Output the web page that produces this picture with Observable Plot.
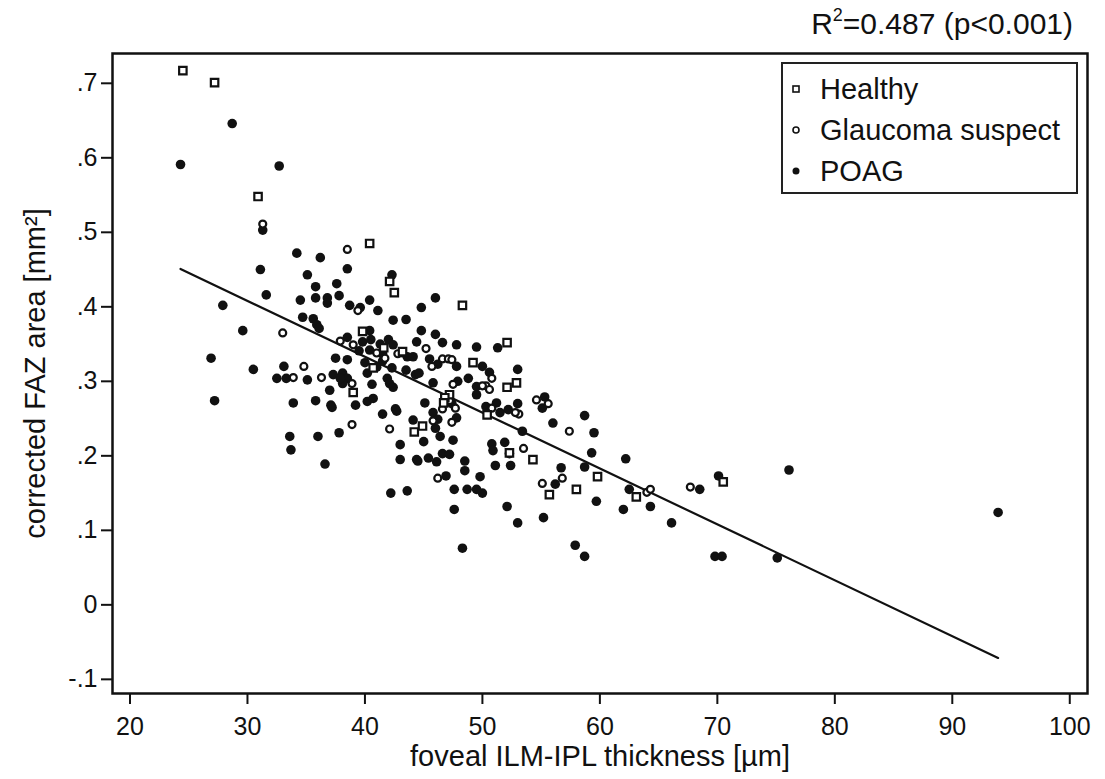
<!DOCTYPE html>
<html>
<head>
<meta charset="utf-8">
<script src="https://cdn.jsdelivr.net/npm/d3@7"></script>
<script src="https://cdn.jsdelivr.net/npm/@observablehq/plot@0.6"></script>
<style>
  body { margin: 0; background: #fff; font-family: "Liberation Sans", Arial, sans-serif; }
  #wrap { position: relative; width: 1105px; height: 779px; background: #fff; }
  #chart { position: absolute; left: 0; top: 0; }
  #title { position: absolute; right: 32px; top: 7px; font-size: 30px; color: #111; white-space: nowrap; }
  #title sup { font-size: 18px; position: relative; top: -2px; }
  #legend { position: absolute; left: 781px; top: 62px; width: 293px; height: 128px; border: 2px solid #222; background: #fff; }
  svg g[aria-label="x-axis label"] text, svg g[aria-label="y-axis label"] text { font-size: 29px; }
</style>
</head>
<body>
<div id="wrap">
  <div id="chart"></div>
  <div id="title">R<sup>2</sup>=0.487 (p&lt;0.001)</div>
  <div id="legend"></div>
</div>
<script>
// ---- data (x = foveal ILM-IPL thickness [µm], y = corrected FAZ area [mm²]) ----
const seriesNames = ["Healthy", "Glaucoma suspect", "POAG"];
const xTicks = [20, 30, 40, 50, 60, 70, 80, 90, 100];
const yTicks = [-0.1, 0, 0.1, 0.2, 0.3, 0.4, 0.5, 0.6, 0.7];
const xLabel = "foveal ILM-IPL thickness [\u00B5m]";
const yLabel = "corrected FAZ area [mm\u00B2]";
const fitIntercept = 0.633;
const fitSlope = -0.0075;

const healthy = [
  [24.5,.717],[27.2,.701],[30.9,.548],[40.4,.485],[42.1,.434],[42.5,.419],[39.8,.367],[41.6,.345],
  [40.7,.318],[39.0,.285],[44.2,.232],[48.3,.402],[52.1,.352],[43.2,.340],[49.2,.325],[47.2,.282],
  [46.8,.278],[52.1,.292],[52.9,.298],[46.7,.271],[50.4,.255],[44.9,.240],[52.3,.204],[54.3,.195],
  [55.7,.148],[58.0,.155],[59.8,.172],[63.1,.145],[70.5,.165]
];

const suspect = [
  [31.3,.511],[38.5,.477],[39.4,.395],[33.0,.365],[34.8,.320],[33.9,.305],[36.3,.305],[38.9,.297],
  [38.9,.242],[42.1,.236],[45.2,.344],[45.7,.320],[46.6,.330],[47.1,.330],[47.4,.329],[50.8,.304],
  [50.3,.294],[50.6,.289],[47.5,.296],[46.6,.263],[47.7,.264],[50.8,.264],[53.1,.256],[52.8,.258],
  [54.6,.275],[55.6,.270],[57.4,.233],[53.5,.210],[56.8,.170],[55.1,.163],[64.0,.151],[64.3,.155],
  [67.7,.158],[46.2,.170],[47.4,.245],[45.8,.247],[37.9,.354],[39.0,.349],[41.0,.338],[41.7,.331],
  [42.8,.337],[43.2,.338],[50.0,.294],[47.2,.274]
];

const poag = [
  [28.7,.646],[24.3,.591],[32.7,.589],[31.3,.503],[34.2,.472],[36.2,.466],[38.5,.451],[31.1,.450],
  [35.1,.443],[42.3,.443],[37.6,.431],[35.8,.427],[31.6,.416],[34.5,.409],[35.8,.412],[36.8,.412],
  [37.8,.415],[40.4,.409],[36.8,.405],[38.7,.402],[39.6,.399],[41.1,.395],[27.9,.402],[34.7,.386],
  [35.6,.384],[35.9,.376],[36.1,.371],[42.4,.382],[43.5,.383],[29.6,.368],[40.4,.368],[26.9,.331],
  [37.5,.331],[38.5,.329],[30.5,.316],[33.1,.320],[32.5,.304],[33.3,.304],[35.1,.302],[37.3,.309],
  [38.1,.311],[38.5,.304],[38.1,.297],[37.0,.288],[40.2,.311],[40.6,.296],[41.9,.304],[42.1,.297],
  [42.4,.292],[43.5,.315],[44.3,.309],[27.2,.274],[33.9,.271],[35.8,.274],[37.1,.268],[39.2,.268],
  [40.2,.273],[40.7,.277],[41.5,.256],[42.7,.260],[44.1,.248],[33.6,.226],[36.0,.226],[37.8,.231],
  [33.7,.208],[36.6,.189],[43.0,.215],[43.0,.195],[44.4,.195],[46.0,.412],[44.8,.399],[44.8,.368],
  [46.0,.363],[46.6,.352],[44.4,.353],[47.8,.349],[49.5,.346],[51.3,.345],[43.6,.333],[44.1,.333],
  [45.5,.330],[46.2,.323],[47.8,.320],[50.0,.320],[44.6,.311],[45.8,.298],[50.6,.312],[48.8,.304],
  [47.9,.300],[49.5,.293],[49.5,.282],[53.0,.316],[45.1,.271],[47.4,.270],[50.3,.266],[51.2,.271],
  [51.5,.258],[52.2,.262],[53.0,.270],[55.3,.279],[55.1,.264],[56.0,.244],[58.7,.254],[59.5,.231],
  [59.3,.204],[53.4,.233],[45.8,.258],[46.2,.249],[46.4,.226],[46.0,.237],[47.8,.251],[47.5,.221],
  [45.0,.219],[44.5,.193],[45.4,.197],[46.1,.192],[46.6,.203],[47.2,.202],[48.5,.193],[50.8,.216],
  [50.9,.207],[51.9,.218],[52.3,.203],[51.1,.187],[52.4,.187],[56.7,.184],[58.7,.185],[62.2,.196],
  [56.2,.162],[62.5,.155],[64.3,.132],[62.0,.128],[59.7,.139],[66.1,.110],[68.5,.155],[70.1,.173],
  [76.1,.181],[69.8,.065],[70.4,.065],[75.1,.063],[52.1,.132],[53.0,.110],[55.2,.117],[57.9,.080],
  [58.7,.065],[49.8,.172],[50.0,.150],[93.9,.124],[48.5,.180],[46.9,.173],[47.6,.155],[48.7,.155],
  [49.5,.155],[47.6,.128],[42.2,.150],[43.6,.153],[48.3,.076],[37.2,.265],[37.9,.304],[42.6,.263],
  [38.5,.359],[39.8,.353],[40.5,.356],[41.3,.350],[42.0,.356],[42.4,.349],[39.5,.341],[40.4,.342],
  [41.5,.337],[40.0,.325],[41.5,.327],[41.0,.319],[42.3,.318]
];

// ---- chart ----
const allX = [...healthy, ...suspect, ...poag].map(d => d[0]);
const fitX = d3.extent(allX);
const yFmt = v => v === 0 ? "0" : String(v).replace("0.", ".");
const ink = "#111";

const chart = Plot.plot({
  width: 1105,
  height: 779,
  marginLeft: 112,
  marginRight: 18,
  marginTop: 53,
  marginBottom: 86,
  style: { fontFamily: "'Liberation Sans', Arial, sans-serif", fontSize: "25px", color: ink, background: "#fff", overflow: "visible" },
  x: { domain: [18.51, 101.51] },
  y: { domain: [-0.119, 0.740] },
  marks: [
    Plot.axisX({ ticks: xTicks, tickSize: 11, tickPadding: 13, strokeWidth: 2, label: xLabel, labelAnchor: "center", labelArrow: "none", labelOffset: 72 }),
    Plot.axisY({ ticks: yTicks, tickSize: 11, tickPadding: 4, strokeWidth: 2, tickFormat: yFmt, label: yLabel, labelAnchor: "center", labelArrow: "none", labelOffset: 88 }),
    Plot.line(fitX, { x: d => d, y: d => fitIntercept + fitSlope * d, stroke: ink, strokeWidth: 2.2 }),
    Plot.dot(poag, { x: d => d[0], y: d => d[1], r: 4.8, fill: ink, stroke: "none" }),
    Plot.dot(suspect, { x: d => d[0], y: d => d[1], r: 3.5, fill: "#fff", stroke: ink, strokeWidth: 2.2 }),
    Plot.dot(healthy, { x: d => d[0], y: d => d[1], symbol: "square", r: 4.2, fill: "#fff", stroke: ink, strokeWidth: 2.2 }),
    Plot.frame({ stroke: ink, strokeWidth: 2.5 })
  ]
});
document.getElementById("chart").appendChild(chart);

// ---- legend ----
const legendSymbols = { "Healthy": "square", "Glaucoma suspect": "circle", "POAG": "dot" };
const lg = d3.select("#legend").append("svg").attr("width", 293).attr("height", 128)
  .style("font-family", "'Liberation Sans', Arial, sans-serif");
seriesNames.forEach((name, i) => {
  const cy = 25 + i * 41;
  const kind = legendSymbols[name];
  if (kind === "square") {
    lg.append("rect").attr("x", 10).attr("y", cy - 3).attr("width", 6).attr("height", 6)
      .attr("fill", "#fff").attr("stroke", ink).attr("stroke-width", 1.6);
  } else if (kind === "circle") {
    lg.append("circle").attr("cx", 13).attr("cy", cy).attr("r", 3)
      .attr("fill", "#fff").attr("stroke", ink).attr("stroke-width", 1.6);
  } else {
    lg.append("circle").attr("cx", 13).attr("cy", cy).attr("r", 3.5).attr("fill", ink);
  }
  lg.append("text").attr("x", 37).attr("y", cy).attr("dy", "0.36em")
    .attr("font-size", 29).attr("fill", ink).text(name);
});
</script>
</body>
</html>
